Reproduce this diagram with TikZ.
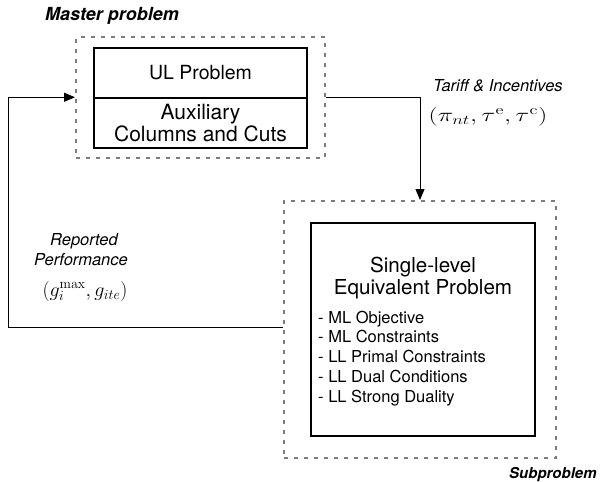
\RequirePackage{fix-cm}
\documentclass[tikz,border=0pt]{standalone}
\usepackage[no-math]{fontspec}
\setmainfont{TeX Gyre Heros}
\usetikzlibrary{arrows.meta}
\definecolor{dashgray}{RGB}{125,125,125}
\begin{document}
\begin{tikzpicture}[x=1pt,y=-1pt,
  dashbox/.style={draw=dashgray, line width=2pt, dash pattern=on 4pt off 6pt, rectangle, inner sep=0pt},
  solidbox/.style={draw=black, line width=1.3pt, rectangle, inner sep=0pt, align=center},
  conn/.style={draw=black, line width=1pt},
  arr/.style={conn, -{Triangle[length=11pt,width=9pt]}},
  bigtxt/.style={inner sep=0pt, font=\fontsize{19.5}{21}\selectfont},
  auxtxt/.style={inner sep=0pt, font=\fontsize{21}{21.5}\selectfont},
  titletxt/.style={inner sep=0pt, anchor=base, font=\fontsize{20.6}{22.5}\selectfont},
  listtxt/.style={inner sep=0pt, anchor=base west, font=\fontsize{16.5}{19.8}\selectfont},
  grouplab/.style={inner sep=0pt, anchor=base west, font=\fontsize{18}{20}\selectfont\bfseries\itshape},
  edgelab/.style={inner sep=0pt, font=\fontsize{16.5}{20}\selectfont\itshape},
  mathlab/.style={inner sep=0pt, font=\fontsize{20}{24}\selectfont}
]
\useasboundingbox (0,0) rectangle (600,482);

% master problem
\node[dashbox, minimum width=249pt, minimum height=120.5pt] (master) at (200.5,97.25) {};
\node[solidbox, bigtxt, minimum width=213pt, minimum height=50pt] (ul) at (200.5,73) {UL Problem};
\node[solidbox, auxtxt, minimum width=213pt, minimum height=50pt] (aux) at (200.5,123) {Auxiliary\\Columns and Cuts};
\node[grouplab] (mlab) at (45,20) {Master problem};

% subproblem
\node[dashbox, minimum width=272pt, minimum height=257pt] (sub) at (420,329.5) {};
\node[solidbox, minimum width=224pt, minimum height=213pt] (slep) at (423,329.5) {};
\node[titletxt] (t1) at (423,272) {Single-level};
\node[titletxt] (t2) at (423,294.5) {Equivalent Problem};
\node[listtxt] (l1) at (318,323) {- ML Objective};
\node[listtxt] (l2) at (318,342.8) {- ML Constraints};
\node[listtxt] (l3) at (318,362.6) {- LL Primal Constraints};
\node[listtxt] (l4) at (318,382.4) {- LL Dual Conditions};
\node[listtxt] (l5) at (318,402.2) {- LL Strong Duality};
\node[grouplab, font=\fontsize{15}{18}\selectfont\bfseries\itshape] (slab) at (509,478) {Subproblem};

% connectors
\coordinate (lc) at (8,97.25);
\draw[arr] (master.east) -| (sub.north);
\draw[arr] ([yshift=2.5pt]sub.west) -| (lc) -- (master.west);

% edge labels
\node[edgelab, anchor=base west] (tl) at (433,91.5) {Tariff \& Incentives};
\node[mathlab, font=\fontsize{19}{22}\selectfont] (tm) at (488,116.7) {\scalebox{1.37}[1]{$(\pi_{nt},\tau^{\mathrm{e}},\tau^{\mathrm{c}})$}};
\node[edgelab, anchor=base] (r1) at (84,245) {Reported};
\node[edgelab, anchor=base] (r2) at (81,265) {Performance};
\node[mathlab] (rm) at (85,291) {$(g_i^{\max},g_{ite})$};
\end{tikzpicture}
\end{document}
